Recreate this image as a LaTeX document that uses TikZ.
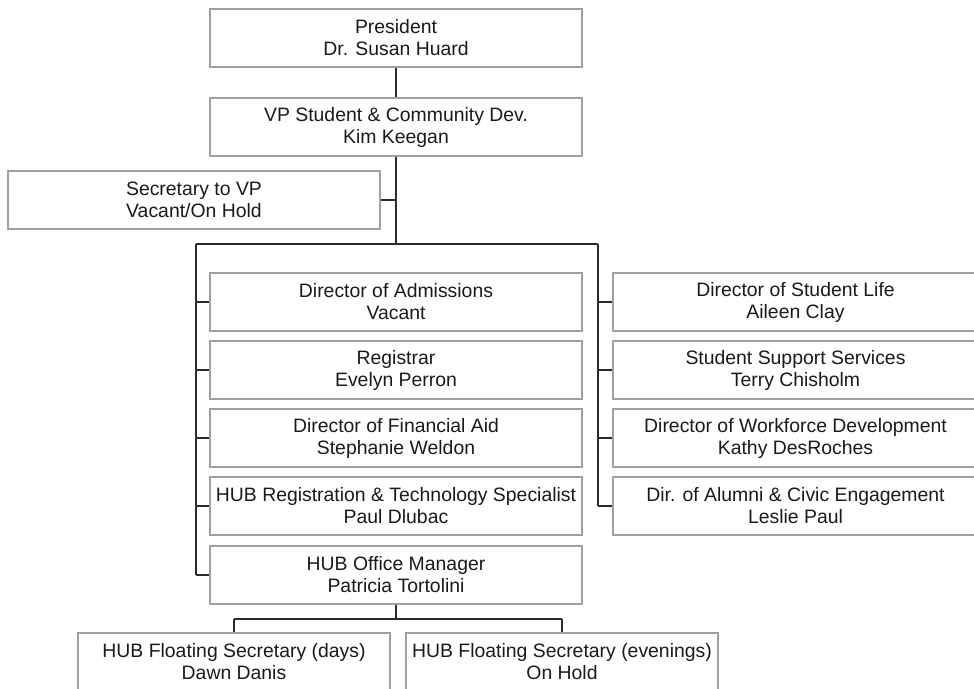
\documentclass[tikz,border=0pt]{standalone}
\usepackage{fontspec}
\setmainfont{Liberation Sans}
\definecolor{boxgray}{HTML}{A0A0A0}
\definecolor{linedark}{HTML}{2A2A2A}
\definecolor{txt}{HTML}{1A1A1A}
\begin{document}
\begin{tikzpicture}[x=1pt,y=-1pt,
  box/.style={draw=boxgray, line width=1.3pt, fill=white, minimum height=58pt,
    inner sep=0pt, align=center, text=txt,
    font=\fontsize{19.4}{22}\selectfont},
  wbox/.style={box, minimum width=372pt},
  rbox/.style={box, minimum width=365pt},
  bbox/.style={box, minimum width=312pt},
  conn/.style={draw=linedark, line width=1.3pt}]
\useasboundingbox (0,0) rectangle (974,688);
\clip (0,0) rectangle (974,688);
\fill[white] (0,0) rectangle (974,688);

% nodes
\node[wbox] (pres) at (396,38) {President\\Dr. Susan Huard};
\node[wbox] (vp) at (396,127) {VP Student \& Community Dev.\\Kim Keegan};
\node[wbox] (sec) at (194,200) {Secretary to VP\\Vacant/On Hold};

\node[wbox] (adm) at (396,302) {Director of Admissions\\Vacant};
\node[wbox] (reg) at (396,370) {Registrar\\Evelyn Perron};
\node[wbox] (fin) at (396,438) {Director of Financial Aid\\Stephanie Weldon};
\node[wbox] (hub) at (396,506) {HUB Registration \& Technology Specialist\\Paul Dlubac};
\node[wbox] (mgr) at (396,575) {HUB Office Manager\\Patricia Tortolini};

\node[rbox] (life) at (795.5,302) {Director of Student Life\\Aileen Clay};
\node[rbox] (sss) at (795.5,370) {Student Support Services\\Terry Chisholm};
\node[rbox] (wfd) at (795.5,438) {Director of Workforce Development\\Kathy DesRoches};
\node[rbox] (alum) at (795.5,506) {Dir. of Alumni \& Civic Engagement\\Leslie Paul};

\node[bbox] (days) at (234,662) {HUB Floating Secretary (days)\\Dawn Danis};
\node[bbox] (eve) at (562,662) {HUB Floating Secretary (evenings)\\On Hold};

% junction coordinates
\coordinate (hubpt) at (396,244);
\coordinate (L) at (196,244);
\coordinate (R) at (598,244);
\coordinate (mb) at (396,619);

% connectors
\draw[conn] (pres.south) -- (vp.north);
\draw[conn] (vp.south) -- (hubpt);
\draw[conn] (sec.east) -- (vp.south |- sec.east);
\draw[conn] (L) -- (R);
\draw[conn] (L) -- (L |- mgr.west);
\draw[conn] (R) -- (R |- alum.west);
\foreach \n in {adm,reg,fin,hub,mgr}
  \draw[conn] (L |- \n.west) -- (\n.west);
\foreach \n in {life,sss,wfd,alum}
  \draw[conn] (R |- \n.west) -- (\n.west);
\draw[conn] (mgr.south) -- (mb);
\draw[conn] (days.north |- mb) -- (eve.north |- mb);
\draw[conn] (days.north |- mb) -- (days.north);
\draw[conn] (eve.north |- mb) -- (eve.north);
\end{tikzpicture}
\end{document}
